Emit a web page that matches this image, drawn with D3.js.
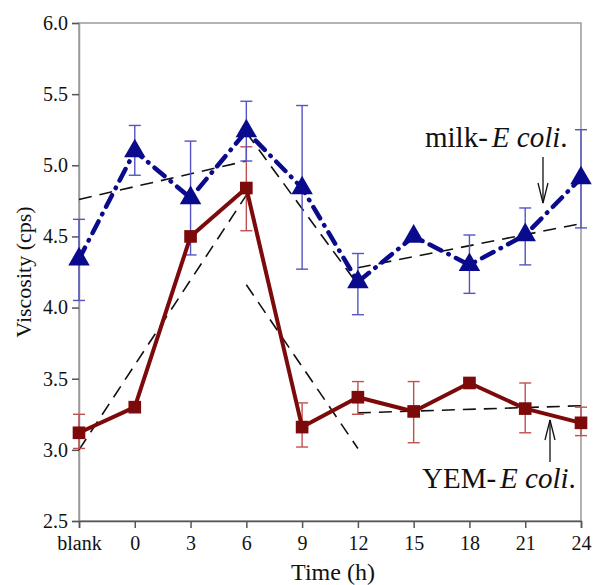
<!DOCTYPE html>
<html>
<head>
<meta charset="utf-8">
<script src="https://cdn.jsdelivr.net/npm/d3@7"></script>
<style>
  body { margin: 0; background: #fff; }
  svg text { font-family: "Liberation Serif", "Times New Roman", serif; fill: #111; }
</style>
</head>
<body>
<svg id="chart"></svg>
<script>
var width = 595;
var height = 585;

// categories on the time axis
var times = ['blank', '0', '3', '6', '9', '12', '15', '18', '21', '24'];
var yTicks = [2.5, 3.0, 3.5, 4.0, 4.5, 5.0, 5.5, 6.0];

// milk-E coli. series
var milkMean = [4.34, 5.10, 4.77, 5.24, 4.84, 4.18, 4.50, 4.30, 4.51, 4.91];
var milkHi   = [4.62, 5.28, 5.17, 5.45, 5.42, 4.38, 4.50, 4.51, 4.70, 5.25];
var milkLo   = [4.05, 4.93, 4.37, 5.03, 4.27, 3.95, 4.50, 4.10, 4.30, 4.56];

// YEM-E coli. series
var yemMean = [3.12, 3.30, 4.50, 4.84, 3.16, 3.37, 3.27, 3.47, 3.29, 3.19];
var yemHi   = [3.25, 3.30, 4.50, 5.13, 3.33, 3.48, 3.48, 3.49, 3.47, 3.30];
var yemLo   = [3.01, 3.30, 4.50, 4.54, 3.02, 3.25, 3.05, 3.44, 3.12, 3.10];

// dashed trend segments: [from category, from value, to category, to value]
var trends = [
    ['blank', 4.76, '6', 5.03],
    ['6', 5.23, '12', 4.16],
    ['12', 4.28, '24', 4.59],
    ['blank', 3.00, '6', 4.79],
    ['6', 4.16, '12', 3.01],
    ['12', 3.26, '24', 3.31]
];

var margin = {left: 79, right: 14, top: 23, bottom: 64};

var svg = d3.select('#chart')
    .attr('width', width)
    .attr('height', height);

var x = d3.scalePoint()
    .domain(times)
    .range([margin.left, width - margin.right]);

var y = d3.scaleLinear()
    .domain([2.5, 6.0])
    .range([height - margin.bottom, margin.top]);

// frame
svg.append('rect')
    .attr('x', x.range()[0])
    .attr('y', y(6))
    .attr('width', x.range()[1] - x.range()[0])
    .attr('height', y(2.5) - y(6))
    .attr('fill', 'none')
    .attr('stroke', '#9a9a9a')
    .attr('stroke-width', 1.5);

var yAxis = svg.append('g')
    .attr('transform', `translate(${margin.left},0)`)
    .call(d3.axisLeft(y).tickValues(yTicks).tickFormat(d3.format('.1f')).tickSize(7).tickPadding(4));
yAxis.select('.domain').attr('stroke', '#9a9a9a').attr('stroke-width', 1.5);
yAxis.selectAll('.tick line').attr('stroke', '#555').attr('stroke-width', 1.5);
yAxis.selectAll('text').style('font-size', '20px').attr('fill', '#111');

var xAxis = svg.append('g')
    .attr('transform', `translate(0,${y(2.5)})`)
    .call(d3.axisBottom(x).tickSize(7).tickPadding(8));
xAxis.select('.domain').attr('stroke', '#555').attr('stroke-width', 1.5);
xAxis.selectAll('.tick line').attr('stroke', '#555').attr('stroke-width', 1.5);
xAxis.selectAll('text').style('font-size', '20px').attr('fill', '#111');

svg.append('text')
    .attr('x', 333)
    .attr('y', 580)
    .attr('text-anchor', 'middle')
    .style('font-size', '24px')
    .text('Time (h)');

svg.append('text')
    .attr('transform', `translate(31,272) rotate(-90)`)
    .attr('text-anchor', 'middle')
    .style('font-size', '22px')
    .text('Viscosity (cps)');

// trend lines
svg.append('g').selectAll('line')
    .data(trends)
    .enter().append('line')
    .attr('x1', d => x(d[0]))
    .attr('y1', d => y(d[1]))
    .attr('x2', d => x(d[2]))
    .attr('y2', d => y(d[3]))
    .attr('stroke', '#111')
    .attr('stroke-width', 1.6)
    .attr('stroke-dasharray', '13,8');

function errorBars(mean, hi, lo, color) {
    var g = svg.append('g').attr('stroke', color).attr('stroke-width', 1.4);
    times.forEach(function(t, i) {
        if (hi[i] - lo[i] < 0.001) return;
        var cx = x(t);
        g.append('line').attr('x1', cx).attr('x2', cx).attr('y1', y(hi[i])).attr('y2', y(lo[i]));
        g.append('line').attr('x1', cx - 6).attr('x2', cx + 6).attr('y1', y(hi[i])).attr('y2', y(hi[i]));
        g.append('line').attr('x1', cx - 6).attr('x2', cx + 6).attr('y1', y(lo[i])).attr('y2', y(lo[i]));
    });
}

errorBars(yemMean, yemHi, yemLo, '#c05050');
errorBars(milkMean, milkHi, milkLo, '#5454c4');

var line = d3.line()
    .x((d, i) => x(times[i]))
    .y(d => y(d));

// YEM series
svg.append('path')
    .datum(yemMean)
    .attr('d', line)
    .attr('fill', 'none')
    .attr('stroke', '#7d0a0a')
    .attr('stroke-width', 4)
    .attr('stroke-linejoin', 'round');

svg.append('g').selectAll('path')
    .data(yemMean)
    .enter().append('path')
    .attr('d', d3.symbol().type(d3.symbolSquare).size(160))
    .attr('transform', (d, i) => `translate(${x(times[i])},${y(d)})`)
    .attr('fill', '#7d0a0a');

// milk series
svg.append('path')
    .datum(milkMean)
    .attr('d', line)
    .attr('fill', 'none')
    .attr('stroke', '#0a0a8c')
    .attr('stroke-width', 4.5)
    .attr('stroke-linecap', 'round')
    .attr('stroke-dasharray', '13,8,0.5,8');

svg.append('g').selectAll('path')
    .data(milkMean)
    .enter().append('path')
    .attr('d', d3.symbol().type(d3.symbolTriangle).size(200))
    .attr('transform', (d, i) => `translate(${x(times[i])},${y(d)})`)
    .attr('fill', '#0a0a8c');

// annotations
function label(xp, yp, prefix) {
    var t = svg.append('text')
        .attr('x', xp)
        .attr('y', yp)
        .style('font-size', '29px');
    t.append('tspan').text(prefix);
    t.append('tspan').attr('dx', 4).style('font-style', 'italic').text('E coli');
    t.append('tspan').text('.');
}

label(425, 147, 'milk-');
label(422, 488, 'YEM-');

function arrow(xp, y1, y2) {
    var dir = y2 > y1 ? 1 : -1;
    var g = svg.append('g').attr('stroke', '#111').attr('stroke-width', 1.3).attr('fill', 'none');
    g.append('line').attr('x1', xp).attr('x2', xp).attr('y1', y1).attr('y2', y2);
    g.append('path').attr('d', `M${xp - 5},${y2 - dir * 20}L${xp},${y2}L${xp + 5},${y2 - dir * 20}`);
}

arrow(543, 157, 203);
arrow(550, 462, 420);
</script>
</body>
</html>
